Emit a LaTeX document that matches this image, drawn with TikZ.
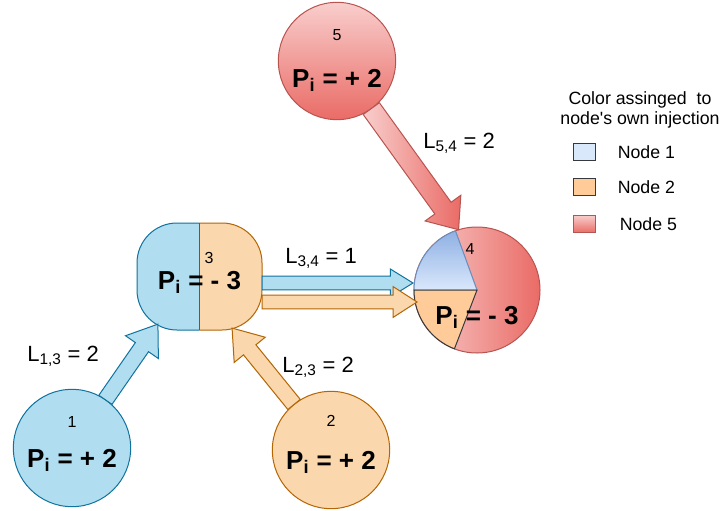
\documentclass[tikz,border=0pt]{standalone}
\usepackage{fontspec}
\setmainfont{Liberation Sans}[Ligatures=TeXOff]
\usetikzlibrary{positioning, calc}
\definecolor{cBlueFill}{HTML}{B1DDF0}
\definecolor{cBlueLine}{HTML}{10739E}
\definecolor{cOrFill}{HTML}{FAD7AC}
\definecolor{cOrLine}{HTML}{B46504}
\definecolor{cRedLight}{HTML}{F8CECC}
\definecolor{cRedDark}{HTML}{EA6B66}
\definecolor{cRedLine}{HTML}{B85450}
\definecolor{cSliceBlue}{HTML}{DAE8FC}
\definecolor{cSliceBlueDark}{HTML}{8EB0E3}
\definecolor{cSliceBlueLine}{HTML}{6C8EBF}
\definecolor{cSliceOr}{HTML}{FFCC99}
\definecolor{cDarkLine}{HTML}{36393D}
\tikzset{
  busnode/.style={circle, minimum size=88pt, inner sep=0pt, outer sep=0pt,
                  line width=0.75pt},
  pvalue/.style={font=\fontsize{19.5}{22}\selectfont\bfseries, inner sep=0pt},
  busid/.style={font=\fontsize{12}{14}\selectfont, inner sep=0pt},
  flowlabel/.style={font=\fontsize{16.5}{19}\selectfont, inner sep=0pt,
                    anchor=base west},
  legendbox/.style={minimum width=16.5pt, minimum height=13pt, inner sep=0pt,
                    line width=0.75pt},
  legendtext/.style={font=\fontsize{13.3}{15}\selectfont, inner sep=0pt},
  flowarrow/.style={line width=0.75pt}
}
% wide block arrow: [style]{from}{to}{shaft half width}{head half width}{head length}
\newcommand{\flexarrow}[6][]{%
  \path (#2); \pgfgetlastxy{\fax}{\fay}%
  \path (#3); \pgfgetlastxy{\fbx}{\fby}%
  \pgfmathsetmacro{\fang}{atan2(\fby-\fay,\fbx-\fax)}%
  \pgfmathsetmacro{\flen}{veclen(\fbx-\fax,\fby-\fay)}%
  \path[flowarrow, #1, shift={(#2)}, rotate=\fang]
    (0pt,-#4) -- ({\flen*1pt-#6},-#4) -- ({\flen*1pt-#6},-#5) -- ({\flen*1pt},0pt)
    -- ({\flen*1pt-#6},#5) -- ({\flen*1pt-#6},#4) -- (0pt,#4) -- cycle;
}

\begin{document}
\begin{tikzpicture}[x=0.75pt, y=-0.75pt]
  \path[use as bounding box, fill=white] (0,0) rectangle (723,510);

  % buses
  \node[busnode, draw=cBlueLine, fill=cBlueFill] (n1) at (72,448) {};
  \node[busnode, draw=cOrLine, fill=cOrFill] (n2) at (331,450) {};
  \node[busnode, draw=cRedLine, top color=cRedLight, bottom color=cRedDark] (n5) at (337,61) {};
  \node[busnode, minimum size=94.5pt, draw=cRedLine, left color=cRedLight,
        right color=cRedDark] (n4) at (477,290) {};
  \node[inner sep=0pt, outer sep=0pt, minimum width=93.75pt, minimum height=80.25pt]
    (n3) at (199.5,276.5) {};

  % bus 3, split in two halves
  \begin{scope}
    \clip ([shift={(-2pt,2pt)}]n3.north west) rectangle ([shift={(0pt,-2pt)}]n3.south);
    \filldraw[draw=cBlueLine, fill=cBlueFill, line width=0.75pt, rounded corners=30pt]
      (n3.north west) rectangle (n3.south east);
  \end{scope}
  \begin{scope}
    \clip ([shift={(0pt,2pt)}]n3.north) rectangle ([shift={(2pt,-2pt)}]n3.south east);
    \filldraw[draw=cOrLine, fill=cOrFill, line width=0.75pt, rounded corners=30pt]
      (n3.north west) rectangle (n3.south east);
  \end{scope}
  \draw[cBlueLine, line width=0.75pt] (n3.north) -- (n3.south);

  % bus 4, shares of the injections
  \filldraw[draw=cSliceBlueLine, top color=cSliceBlueDark, bottom color=cSliceBlue,
            line width=0.75pt]
    (n4.center) -- (n4.110) arc[start angle=110, end angle=180, radius=47.25pt] -- cycle;
  \filldraw[draw=cDarkLine, fill=cSliceOr, line width=0.75pt]
    (n4.center) -- (n4.180) arc[start angle=180, end angle=249, radius=47.25pt] -- cycle;

  % texts in the buses
  \node[busid] at ($(n1)+(0,-26)$) {1};
  \node[pvalue] at ($(n1)+(0,12)$) {P\textsubscript{i} = + 2};
  \node[busid] at ($(n2)+(0,-29)$) {2};
  \node[pvalue] at ($(n2)+(0,12)$) {P\textsubscript{i} = + 2};
  \node[busid] at ($(n5)+(0,-26)$) {5};
  \node[pvalue] at ($(n5)+(0,19)$) {P\textsubscript{i} = + 2};
  \node[busid] at ($(n3)+(9.5,-18.5)$) {3};
  \node[pvalue] at ($(n3)+(0,5.5)$) {P\textsubscript{i} = - 3};
  \node[busid] at ($(n4)+(-7,-41)$) {4};
  \node[pvalue] at ($(n4)+(0,27)$) {P\textsubscript{i} = - 3};

  % flows
  \coordinate (t13) at ([shift={(21,-6)}]n3.south west);
  \coordinate (s13) at ($(n1)!44pt!(t13)$);
  \coordinate (t23) at ([shift={(-30,-2)}]n3.south east);
  \coordinate (s23) at ($(n2)!44pt!(t23)$);
  \coordinate (t54) at (n4.107);
  \coordinate (s54) at ($(n5)!44pt!(t54)$);
  \coordinate (t34b) at (413,283);
  \coordinate (s34b) at (n3.east |- t34b);
  \coordinate (t34o) at (417,302);
  \coordinate (s34o) at (n3.east |- t34o);

  \flexarrow[draw=cBlueLine, fill=cBlueFill]{s13}{t13}{6pt}{15pt}{21pt}
  \flexarrow[draw=cOrLine, fill=cOrFill]{s23}{t23}{6pt}{15pt}{21pt}
  \flexarrow[draw=cRedLine, left color=cRedLight, right color=cRedDark]{s54}{t54}{7.5pt}{16.5pt}{20pt}
  \flexarrow[draw=cBlueLine, fill=cBlueFill]{s34b}{t34b}{5.2pt}{10.5pt}{17pt}
  \flexarrow[draw=cOrLine, fill=cOrFill]{s34o}{t34o}{5.2pt}{11.6pt}{18pt}

  \node[flowlabel] (l54) at (423,148) {L\textsubscript{5,4} = 2};
  \node[flowlabel] (l34) at (285,263) {L\textsubscript{3,4} = 1};
  \node[flowlabel] (l13) at (27,361) {L\textsubscript{1,3} = 2};
  \node[flowlabel] (l23) at (282,372) {L\textsubscript{2,3} = 2};

  % legend
  \node[legendtext, align=center] (lgtitle) at (640,110)
    {Color assinged\ \ to\\node's own injection};
  \node[legendbox, draw=cDarkLine, fill=cSliceBlue] (lg1) at (584,152) {};
  \node[legendbox, draw=cDarkLine, fill=cSliceOr] (lg2) at (584,187) {};
  \node[legendbox, draw=cRedLine, top color=cRedLight, bottom color=cRedDark] (lg5) at (584,224) {};
  \node[legendtext, right=16.5pt of lg1] (lt1) {Node 1};
  \node[legendtext, right=16.5pt of lg2] (lt2) {Node 2};
  \node[legendtext, right=18pt of lg5] (lt5) {Node 5};
\end{tikzpicture}
\end{document}
